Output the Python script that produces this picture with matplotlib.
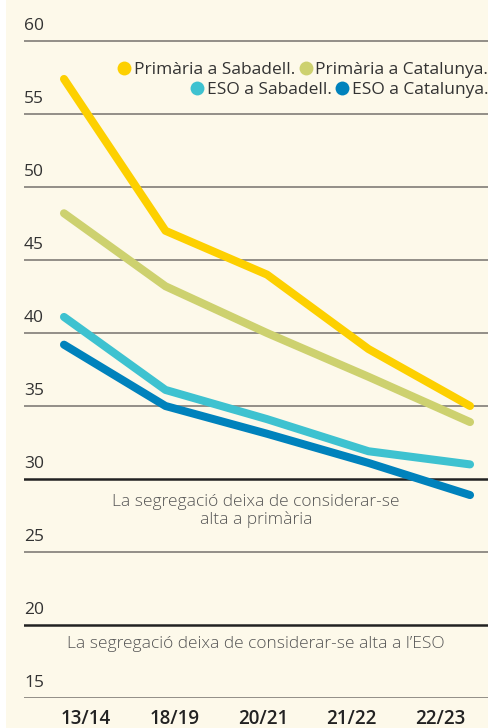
import matplotlib.pyplot as plt
from matplotlib.lines import Line2D
from matplotlib.patches import Rectangle

plt.rcParams['font.family'] = ['Open Sans', 'DejaVu Sans']

# Dades
cursos = ['13/14', '18/19', '20/21', '21/22', '22/23']
primaria_sabadell = [57.4, 47.0, 44.0, 38.9, 35.0]
primaria_catalunya = [48.2, 43.2, 40.0, 37.0, 33.9]
eso_sabadell = [41.1, 36.1, 34.1, 31.9, 31.0]
eso_catalunya = [39.2, 35.0, 33.1, 31.1, 28.9]
yticks = [15, 20, 25, 30, 35, 40, 45, 50, 55, 60]
llindars = [30, 20]

series = [
    ('Primària a Sabadell.', primaria_sabadell, '#fdd000'),
    ('Primària a Catalunya.', primaria_catalunya, '#cdd16f'),
    ('ESO a Sabadell.', eso_sabadell, '#3ec2d0'),
    ('ESO a Catalunya.', eso_catalunya, '#0082bc'),
]

W, H = 488, 728
fig = plt.figure(figsize=(W / 100, H / 100), dpi=100)
fig.patch.set_facecolor('white')
fig.patches.append(Rectangle((6 / W, 0), 1, 1, transform=fig.transFigure,
                             facecolor='#fdf9ea', edgecolor='none', zorder=-10))

# axes: x 24..488 px, y 698 (15) .. 0 (top)
ax = fig.add_axes([24 / W, 30 / H, 1 - 24 / W, 698 / H])
ax.set_facecolor('none')
ax.set_xlim(-0.394, 4.177)
ax.set_ylim(15, 60 + 41 / 14.6)
for s in ax.spines.values():
    s.set_visible(False)

x = list(range(len(cursos)))
for y in yticks:
    if y in llindars:
        ax.axhline(y, color='#222222', lw=1.8, zorder=1)
    else:
        ax.axhline(y, color='#8a8680', lw=1.3, zorder=1)
    ax.text(-0.394, y + 0.45, str(y), fontsize=12.5, color='#333333',
            ha='left', va='bottom')

for nom, vals, col in series:
    ax.plot(x, vals, color=col, lw=5.8, solid_capstyle='round',
            solid_joinstyle='round', zorder=3)

ax.set_yticks([])
ax.set_xticks([0.217 + 0.872 * i for i in range(len(cursos))])
ax.set_xticklabels(cursos, fontsize=13.5, color='#222222', fontweight='semibold')
ax.tick_params(axis='x', length=0, pad=8)

ax.text(1.89, 29.0, 'La segregació deixa de considerar-se\nalta a primària',
        ha='center', va='top', fontsize=12.5, color='#555555',
        fontweight='light', linespacing=1.1)
ax.text(1.89, 18.7, 'La segregació deixa de considerar-se alta a l’ESO',
        ha='center', va='center', fontsize=12.5, color='#555555',
        fontweight='light')

def handles(items):
    return [Line2D([], [], ls='none', marker='o', markersize=10,
                   markerfacecolor=c, markeredgecolor='none') for _, _, c in items]

leg_kw = dict(loc='upper right', ncol=2, frameon=False, fontsize=12.5,
              handletextpad=0.15, columnspacing=0.2, handlelength=0.8,
              borderaxespad=0, borderpad=0, labelcolor='#333333')
fig.legend(handles(series[:2]), [s[0] for s in series[:2]],
           bbox_to_anchor=(1.0, 1 - 62 / H), **leg_kw)
fig.legend(handles(series[2:]), [s[0] for s in series[2:]],
           bbox_to_anchor=(1.0, 1 - 82 / H), **leg_kw)

fig.savefig('out.png', dpi=100, facecolor=fig.get_facecolor())
